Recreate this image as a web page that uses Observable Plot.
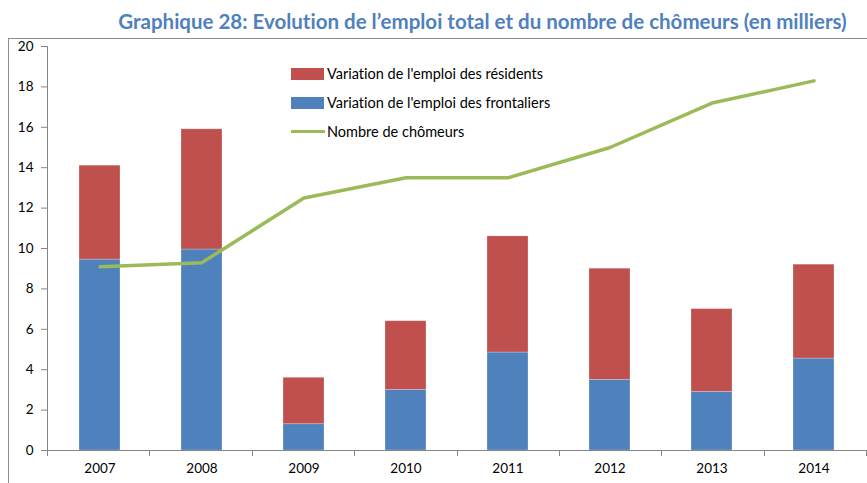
<!DOCTYPE html>
<html>
<head>
<meta charset="utf-8">
<script src="https://cdn.jsdelivr.net/npm/d3@7"></script>
<script src="https://cdn.jsdelivr.net/npm/@observablehq/plot@0.6"></script>
<style>
  body { margin: 0; background: #fff; font-family: Lato, "Liberation Sans", sans-serif; font-variant-ligatures: none; }
  #wrap { position: relative; width: 867px; height: 483px; overflow: hidden; }
  #title { position: absolute; left: 98px; right: 0; top: 9px; text-align: center; font-weight: bold; font-size: 20.5px; color: #4f81bd; white-space: nowrap; }
  #chart { position: absolute; left: 0; top: 38px; }
  #chart svg { font-variant-ligatures: none; }
  #border { position: absolute; left: 8px; top: 38px; width: 870px; height: 460px; border: 1px solid #8c8c8c; pointer-events: none; }
  #legend { position: absolute; left: 291px; top: 59px; font-size: 14.5px; color: #000; }
  .row { display: flex; align-items: center; height: 29px; }
  .sw { width: 33px; height: 12px; margin-right: 3px; }
  .ln { width: 34px; height: 3px; margin-right: 2px; }
</style>
</head>
<body>
<div id="wrap">
  <div id="title">Graphique 28: Evolution de l’emploi total et du nombre de chômeurs (en milliers)</div>
  <div id="chart"></div>
  <div id="border"></div>
  <div id="legend"></div>
</div>
<script>
const years = ["2007", "2008", "2009", "2010", "2011", "2012", "2013", "2014"];
const frontaliers = [9.45, 9.95, 1.3, 3.0, 4.85, 3.5, 2.9, 4.55];
const residents = [4.65, 5.95, 2.3, 3.4, 5.75, 5.5, 4.1, 4.65];
const chomeurs = [9.1, 9.3, 12.5, 13.5, 13.5, 15.0, 17.2, 18.3];
const yTicks = [0, 2, 4, 6, 8, 10, 12, 14, 16, 18, 20];
const seriesNames = ["Variation de l'emploi des résidents", "Variation de l'emploi des frontaliers", "Nombre de chômeurs"];
const seriesColors = ["#c0504d", "#4f81bd", "#9bbb59"];

const stacked = years.flatMap((y, i) => [
  {year: y, serie: seriesNames[1], value: frontaliers[i]},
  {year: y, serie: seriesNames[0], value: residents[i]}
]);
const lineData = years.map((y, i) => ({year: y, value: chomeurs[i]}));

function axesLines(index, scales, values, dims) {
  const g = d3.create("svg:g").attr("stroke", "#868686").attr("fill", "none");
  const y = scales.y;
  const x0 = dims.marginLeft, x1 = dims.width - dims.marginRight;
  const y0 = y(0), yTop = y(yTicks[yTicks.length - 1]);
  g.append("line").attr("x1", x0 + 0.5).attr("x2", x0 + 0.5).attr("y1", y0 + 6).attr("y2", yTop);
  const n = years.length;
  for (let i = 0; i <= n; i++) {
    const xx = Math.round(x0 + (x1 - x0) * i / n) + 0.5;
    g.append("line").attr("x1", xx).attr("x2", xx).attr("y1", y0).attr("y2", y0 + 6);
  }
  return g.node();
}

const chart = Plot.plot({
  width: 867,
  height: 445,
  marginTop: 8,
  marginBottom: 33,
  marginLeft: 47,
  marginRight: 1,
  style: {fontFamily: "Lato, 'Liberation Sans', sans-serif", fontSize: "13.5px", color: "#000", background: "transparent"},
  x: {type: "band", domain: years, paddingInner: 0.6, paddingOuter: 0.3, label: null},
  y: {domain: [0, 20], label: null},
  color: {domain: seriesNames, range: seriesColors},
  marks: [
    Plot.barY(stacked, {x: "year", y: "value", fill: "serie", stroke: "#ffffff", strokeOpacity: 0.35, strokeWidth: 0.7}),
    Plot.ruleY([0], {stroke: "#868686"}),
    axesLines,
    Plot.lineY(lineData, {x: "year", y: "value", stroke: seriesColors[2], strokeWidth: 3.5}),
    Plot.axisY({ticks: yTicks, tickSize: 6, tickPadding: 8, stroke: "#868686", label: null, fontSize: 13.5}),
    Plot.axisX({tickSize: 0, tickPadding: 13, label: null, fontSize: 13.5})
  ]
});
document.getElementById("chart").appendChild(chart);

const legend = document.getElementById("legend");
seriesNames.forEach((name, i) => {
  const row = document.createElement("div");
  row.className = "row";
  const sw = document.createElement("div");
  sw.className = i < 2 ? "sw" : "ln";
  sw.style.background = seriesColors[i];
  row.appendChild(sw);
  const t = document.createElement("span");
  t.textContent = name;
  row.appendChild(t);
  legend.appendChild(row);
});
</script>
</body>
</html>
